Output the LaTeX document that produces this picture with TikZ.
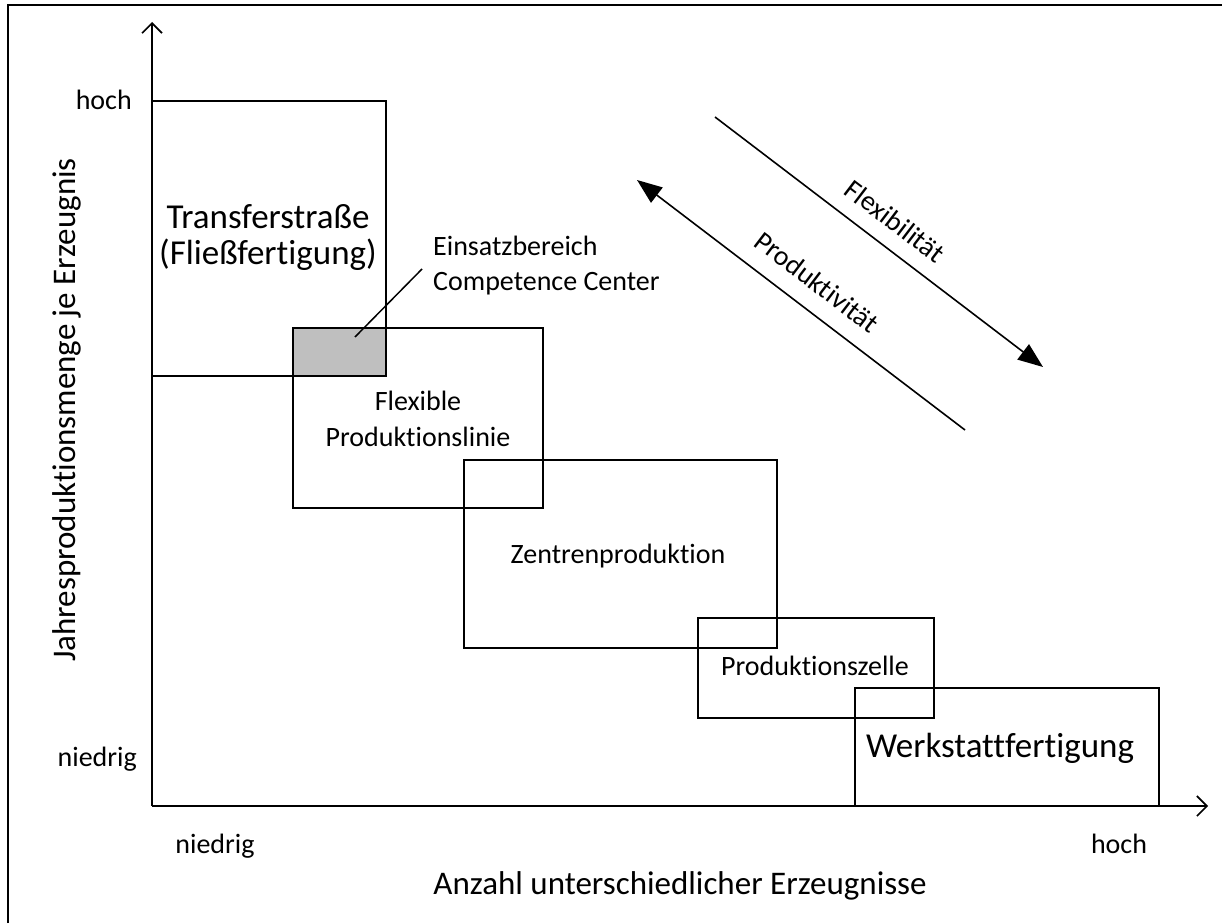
\documentclass[tikz,border=0pt]{standalone}
\usepackage{fontspec}
\setmainfont{Carlito}[Ligatures=NoCommon]
\usetikzlibrary{arrows.meta}
\definecolor{ccgray}{RGB}{191,191,191}
\tikzset{
  box/.style={draw=black, line width=1.8pt},
  axis/.style={draw=black, line width=2pt, -{Straight Barb[length=10pt,width=20pt,line width=1.6pt]}},
  trend/.style={draw=black, line width=1.6pt, -{Triangle[length=25pt,width=19pt]}},
  small/.style={font=\fontsize{28}{34}\selectfont, inner sep=0pt},
  title/.style={font=\fontsize{33}{40}\selectfont, inner sep=0pt},
  big/.style={font=\fontsize{35}{42}\selectfont, inner sep=0pt},
}
\begin{document}
\begin{tikzpicture}[x=1pt,y=-1pt]
\useasboundingbox (0,0) rectangle (1222,923);
% outer frame (top and left edges)
\draw[line width=2.2pt] (8,923) -- (8,5) -- (1222,5);

% overlap of Transferstrasse and Flexible Produktionslinie
\fill[ccgray] (293,328) rectangle (386,376);

% production areas
\draw[box] (152,101) rectangle (386,376);
\draw[box] (293,328) rectangle (543,508);
\draw[box] (464,460) rectangle (777,648);
\draw[box] (698,618) rectangle (934,718);
\draw[box] (855,688) rectangle (1159,806);

% axes
\coordinate (origin) at (152,806);
\coordinate (ytop) at (152,22);
\coordinate (xend) at (1208,806);
\draw[axis] (origin) -- (ytop);
\draw[axis] (origin) -- (xend);

% axis labels
\node[small, anchor=base east] (yhoch) at (132,110) {hoch};
\node[small, anchor=base east] (yniedrig) at (137,766) {niedrig};
\node[small, anchor=base] (xniedrig) at (215,853) {niedrig};
\node[small, anchor=base] (xhoch) at (1119,853) {hoch};
\node[title, anchor=base] (xlabel) at (680,894) {Anzahl unterschiedlicher Erzeugnisse};
\node[title, anchor=base, rotate=90] (ylabel) at (75,410) {Jahresproduktionsmenge je Erzeugnis};

% area labels
\node[big, anchor=base] (tf1) at (268,228) {Transferstraße};
\node[big, anchor=base] (tf2) at (268,264) {(Fließfertigung)};
\node[small, anchor=base west] (cc1) at (433,255) {Einsatzbereich};
\node[small, anchor=base west] (cc2) at (433,290) {Competence Center};
\node[small, anchor=base] (fl1) at (418,410) {Flexible};
\node[small, anchor=base] (fl2) at (418,446) {Produktionslinie};
\node[small, anchor=base] (zp) at (618,563) {Zentrenproduktion};
\node[small, anchor=base] (pz) at (815,675) {Produktionszelle};
\node[big, anchor=base] (wf) at (1000,757) {Werkstattfertigung};

% pointer to the shaded overlap
\coordinate (ccpoint) at (355,337);
\coordinate (ccfoot) at (422,269);
\draw[line width=1.5pt] (ccpoint) -- (ccfoot);

% trend arrows
\coordinate (flexstart) at (715,117);
\coordinate (flexend) at (1043,367);
\coordinate (prodstart) at (965,430);
\coordinate (prodend) at (637,180);
\draw[trend] (flexstart) -- (flexend);
\draw[trend] (prodstart) -- (prodend);
\node[small, rotate=-37.3] (flexlabel) at (895,221) {Flexibilität};
\node[small, rotate=-37.3] (prodlabel) at (817,282) {Produktivität};
\end{tikzpicture}
\end{document}
